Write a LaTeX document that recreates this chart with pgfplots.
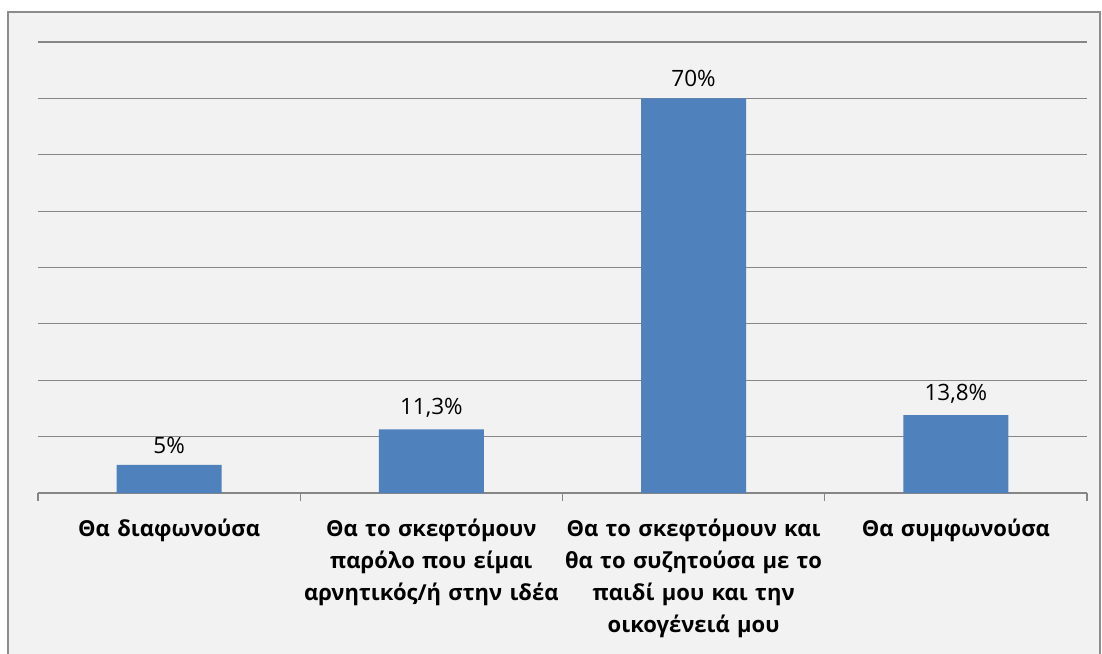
\documentclass[border=0pt]{standalone}
\usepackage{fontspec}
\setmainfont{Open Sans}
\usepackage{pgfplots}
\pgfplotsset{compat=1.18}
\definecolor{barblue}{HTML}{4F81BD}
\definecolor{bggray}{HTML}{F2F2F2}
\definecolor{framegray}{HTML}{8C8C8C}
\definecolor{gridgray}{HTML}{868686}
\begin{document}
\begin{tikzpicture}[x=1pt,y=1pt]
\useasboundingbox (0,0) rectangle (1102,653);
\filldraw[fill=bggray,draw=framegray,line width=1.6pt] (8,-5) rectangle (1100,641);
\begin{axis}[
    at={(38pt,160pt)}, anchor=south west,
    scale only axis, width=1049pt, height=451pt,
    ybar, bar width=105pt,
    xmin=-0.5, xmax=3.5, ymin=0, ymax=80,
    ytick={0,10,...,80}, yticklabels={},
    ymajorgrids, grid style={gridgray,line width=1.2pt},
    axis x line*=bottom, axis y line*=left,
    y axis line style={draw=none},
    x axis line style={gridgray,line width=1.2pt,-},
    xtick={0,1,2,3},
    xticklabels={
      {Θα διαφωνούσα},
      {Θα το σκεφτόμουν\\παρόλο που είμαι\\αρνητικός/ή στην ιδέα},
      {Θα το σκεφτόμουν και\\θα το συζητούσα με το\\παιδί μου και την\\οικογένειά μου},
      {Θα συμφωνούσα}},
    major tick length=0pt,
    xticklabel style={font=\fontsize{22}{32}\selectfont\bfseries, align=center,
      text width=262pt, anchor=north, yshift=-22pt},
    extra x ticks={-0.5,0.5,1.5,2.5,3.5},
    extra x tick labels={},
    extra x tick style={major tick length=8pt, tick align=outside,
      tick style={gridgray,line width=1.2pt}, xmajorgrids=false},
    point meta=explicit symbolic,
    nodes near coords,
    every node near coord/.append style={font=\fontsize{22.5}{25}\selectfont, black, yshift=8pt},
    clip=false,
]
\addplot[fill=barblue, draw=none] table[meta=label]{
x y label
0 5 5\%
1 11.3 11,3\%
2 70 70\%
3 13.8 13,8\%
};
\end{axis}
\end{tikzpicture}
\end{document}
